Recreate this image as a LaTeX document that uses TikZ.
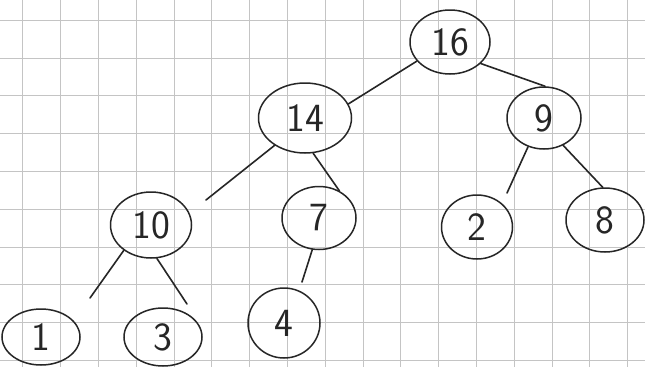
\documentclass[tikz,border=0pt]{standalone}
\usetikzlibrary{shapes.geometric}
\definecolor{ink}{HTML}{262626}
\definecolor{gridc}{HTML}{C4C4C4}
\begin{document}
\begin{tikzpicture}[x=1pt,y=-1pt,
  vtx/.style={ellipse,draw=ink,line width=1.5pt,inner sep=0pt,text=ink,
    font=\sffamily\fontsize{40}{40}\selectfont},
  edge/.style={draw=ink,line width=1.6pt,line cap=round}]
\useasboundingbox (0,0) rectangle (645,367);
\fill[white] (0,0) rectangle (645,367);
\foreach \i in {0,...,16} {\draw[gridc,line width=0.6pt] (22.6+37.8*\i,0) -- (22.6+37.8*\i,367);}
\foreach \j in {0,...,9} {\draw[gridc,line width=0.6pt] (0,20+37.8*\j) -- (645,20+37.8*\j);}
\node[vtx,minimum width=80pt,minimum height=64pt] (n16) at (450,42) {16};
\node[vtx,minimum width=93pt,minimum height=70pt] (n14) at (305,118) {14};
\node[vtx,minimum width=74pt,minimum height=62pt] (n9) at (544,118) {9};
\node[vtx,minimum width=81pt,minimum height=66pt] (n10) at (151,225) {10};
\node[vtx,minimum width=74pt,minimum height=63pt] (n7) at (319,218) {7};
\node[vtx,minimum width=71pt,minimum height=64pt] (n2) at (477,227) {2};
\node[vtx,minimum width=78pt,minimum height=64pt] (n8) at (605,220) {8};
\node[vtx,minimum width=78pt,minimum height=56pt] (n1) at (41,337) {1};
\node[vtx,minimum width=78pt,minimum height=58pt] (n3) at (163,337) {3};
\node[vtx,minimum width=72pt,minimum height=70pt] (n4) at (284,323) {4};
\coordinate (e10) at (206,200);
\coordinate (e2) at (507,193);
\coordinate (e1) at (90,298);
\coordinate (e3) at (187,304);
\coordinate (e4) at (302,282);
\draw[edge] (n16.210) -- (n14.18);
\draw[edge] (n16.325) -- (n9.88);
\draw[edge] (n14.222) -- (e10);
\draw[edge] (n14.283) -- (n7.53);
\draw[edge] (n9.241) -- (e2);
\draw[edge] (n9.305) -- (n8.94);
\draw[edge] (n10.223) -- (e1);
\draw[edge] (n10.280) -- (e3);
\draw[edge] (n7.258) -- (e4);
\end{tikzpicture}
\end{document}
